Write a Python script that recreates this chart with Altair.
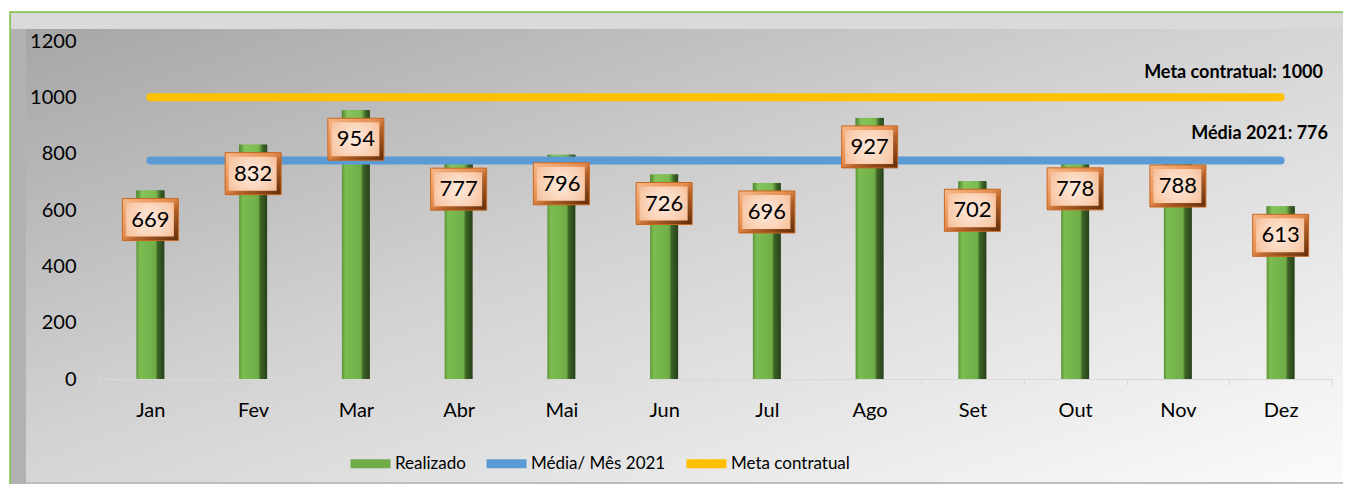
import altair as alt
import pandas as pd

# ---------------- data ----------------
months = ["Jan", "Fev", "Mar", "Abr", "Mai", "Jun", "Jul", "Ago", "Set", "Out", "Nov", "Dez"]
realizado = [669, 832, 954, 777, 796, 726, 696, 927, 702, 778, 788, 613]
media_2021 = 776
meta_contratual = 1000
series_names = ["Realizado", "Média/ Mês 2021", "Meta contratual"]
series_colors = ["#70AD47", "#5B9BD5", "#FFC000"]
y_ticks = [0, 200, 400, 600, 800, 1000, 1200]
meta_label = "Meta  contratual: 1000"
media_label = "Média 2021: 776"

FONT = "Lato"
W, H = 1233, 338

bars_df = pd.DataFrame({"month": months, "value": realizado})
lines_df = pd.DataFrame(
    [{"month": m, "series": series_names[1], "value": media_2021} for m in months]
    + [{"month": m, "series": series_names[2], "value": meta_contratual} for m in months]
)
ann_meta_df = pd.DataFrame([{"label": meta_label, "value": meta_contratual}])
ann_media_df = pd.DataFrame([{"label": media_label, "value": media_2021}])
one = alt.Data(values=[{"a": 1}])

x_enc = alt.X(
    "month:N",
    sort=months,
    title=None,
    scale=alt.Scale(paddingInner=0, paddingOuter=0),
    axis=alt.Axis(
        labelFont=FONT, labelFontSize=20, labelColor="#000000", labelAngle=0,
        labelBaseline="middle", labelPadding=25, domainColor="#d9d9d9",
        tickColor="#d9d9d9", tickSize=6, tickBand="extent", zindex=1,
    ),
)
y_scale = alt.Scale(domain=[0, 1200], nice=False)
y_enc = alt.Y(
    "value:Q",
    title=None,
    scale=y_scale,
    axis=alt.Axis(
        values=y_ticks, format="d", grid=False, domain=False, ticks=False, tickSize=0,
        labelPadding=23, labelFont=FONT, labelFontSize=20, labelColor="#000000", zindex=1,
    ),
)

# ---------------- decorative frame ----------------
def grad(stops, x1=0, y1=0, x2=1, y2=1):
    return alt.LinearGradient(
        gradient="linear",
        stops=[alt.GradientStop(color=c, offset=o) for o, c in stops],
        x1=x1, y1=y1, x2=x2, y2=y2,
    )

bg_outer = alt.Chart(one).mark_rect(fill="#c4c4c4", stroke="#7cc142", strokeWidth=1.5).encode(
    x=alt.value(-89), x2=alt.value(1250), y=alt.value(-29), y2=alt.value(450)
)
bg_top = alt.Chart(one).mark_rect(fill="#dadada").encode(
    x=alt.value(-88), x2=alt.value(1250), y=alt.value(-28), y2=alt.value(-12)
)
bg_left = alt.Chart(one).mark_rect(fill="#b2b2b2").encode(
    x=alt.value(-88), x2=alt.value(-73), y=alt.value(-12), y2=alt.value(450)
)
bg_face = alt.Chart(one).mark_rect(
    fill=grad([(0, "#a6a6a6"), (0.45, "#d2d2d2"), (1, "#fbfbfb")])
).encode(
    x=alt.value(-73), x2=alt.value(1250), y=alt.value(-12), y2=alt.value(441)
)
bg_bottom = alt.Chart(one).mark_rect(fill="#bdbdbd").encode(
    x=alt.value(-73), x2=alt.value(1250), y=alt.value(441), y2=alt.value(450)
)

# ---------------- data marks ----------------
bars = alt.Chart(bars_df).mark_bar(
    width=28,
    fill=grad([(0, "#5b9436"), (0.12, "#7cbc52"), (0.68, "#70ad47"),
               (0.76, "#3d6427"), (1, "#263f18")], x1=0, y1=0, x2=1, y2=0),
).encode(x=x_enc, y=y_enc)

bar_caps = alt.Chart(bars_df).mark_bar(
    width=28, y2Offset=8,
    fill=grad([(0, "#4f8530"), (0.2, "#86c45c"), (0.7, "#79b84f"), (0.85, "#3d6427"), (1, "#2b4a1b")],
              x1=0, y1=0, x2=1, y2=0),
).encode(x=alt.X("month:N", sort=months), y=alt.Y("value:Q", scale=y_scale), y2="value:Q")

lines = alt.Chart(lines_df).mark_line(strokeWidth=8, strokeCap="round").encode(
    x=alt.X("month:N", sort=months),
    y=alt.Y("value:Q", scale=y_scale),
    color=alt.Color(
        "series:N",
        title=None,
        scale=alt.Scale(domain=series_names, range=series_colors),
        legend=alt.Legend(
            orient="none", legendX=247, legendY=398, direction="horizontal",
            symbolType="stroke", symbolSize=1600, symbolStrokeWidth=9,
            labelFont=FONT, labelFontSize=17, labelColor="#000000", labelOffset=0,
            columnPadding=2, padding=0, zindex=1, symbolOpacity=1,
        ),
    ),
    detail="series:N",
)

box_dark = alt.Chart(bars_df).mark_bar(
    width=56, yOffset=8, y2Offset=50,
    fill=grad([(0, "#f7b887"), (0.45, "#e68d4f"), (0.6, "#b5622a"), (1, "#5e2c08")]),
    stroke="#c8661f", strokeWidth=1,
).encode(x=alt.X("month:N", sort=months), y=alt.Y("value:Q", scale=y_scale), y2="value:Q")

box_face = alt.Chart(bars_df).mark_bar(
    width=48, xOffset=-0.5, yOffset=12, y2Offset=46,
    fill=alt.RadialGradient(
        gradient="radial",
        stops=[alt.GradientStop(color="#feeadd", offset=0),
               alt.GradientStop(color="#f9cdae", offset=0.6),
               alt.GradientStop(color="#f2ac7d", offset=1)],
        x1=0.5, y1=0.5, r1=0, x2=0.5, y2=0.5, r2=0.75,
    ),
).encode(x=alt.X("month:N", sort=months), y=alt.Y("value:Q", scale=y_scale), y2="value:Q")

box_text = alt.Chart(bars_df).mark_text(
    font=FONT, fontSize=22, color="#000000", baseline="middle", align="center", yOffset=29
).encode(
    x=alt.X("month:N", sort=months), y=alt.Y("value:Q", scale=y_scale), text="value:Q"
)

ann_meta = alt.Chart(ann_meta_df).mark_text(
    font=FONT, fontSize=18, fontWeight="bold", color="#000000",
    align="right", baseline="middle", yOffset=-24,
).encode(x=alt.value(1224), y=alt.Y("value:Q", scale=y_scale), text="label:N")

ann_media = alt.Chart(ann_media_df).mark_text(
    font=FONT, fontSize=18, fontWeight="bold", color="#000000",
    align="right", baseline="middle", yOffset=-26,
).encode(x=alt.value(1229), y=alt.Y("value:Q", scale=y_scale), text="label:N")

chart = alt.layer(
    bg_outer, bg_top, bg_left, bg_face, bg_bottom,
    bars, bar_caps, lines, box_dark, box_face, box_text, ann_meta, ann_media,
).properties(
    width=W, height=H,
    autosize=alt.AutoSizeParams(type="none"),
    padding={"left": 91, "top": 33, "right": 11, "bottom": 105},
).configure_view(stroke=None)

chart.save("out.html", embed_options={"renderer": "svg", "actions": False})
